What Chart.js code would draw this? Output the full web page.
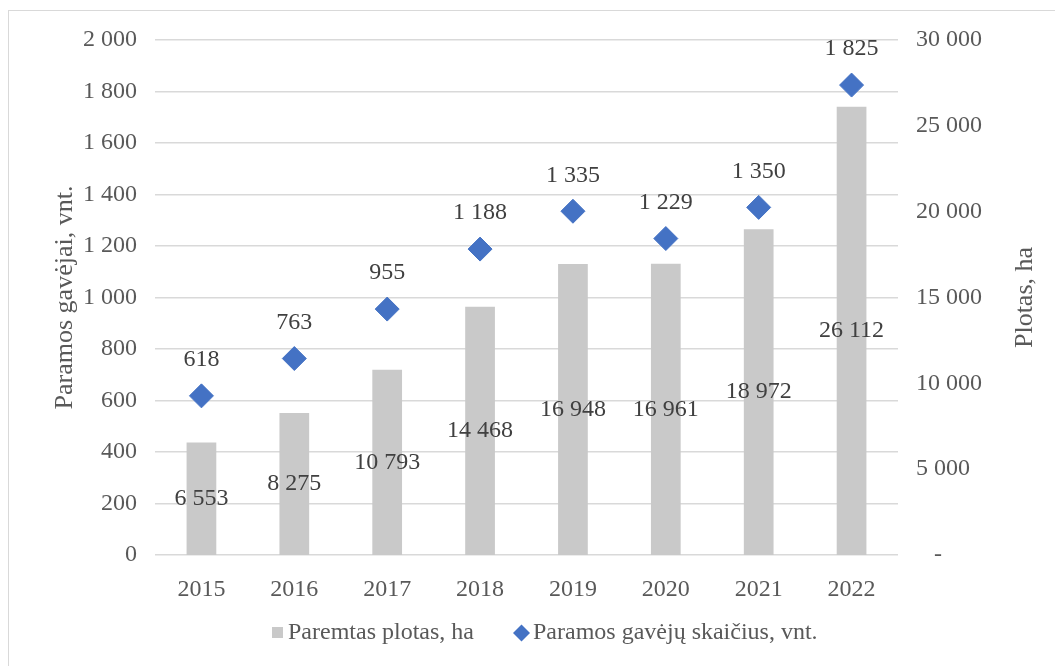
<!DOCTYPE html>
<html>
<head>
<meta charset="utf-8">
<script src="https://cdn.jsdelivr.net/npm/chart.js@4/dist/chart.umd.min.js"></script>
<style>
  html, body { margin: 0; padding: 0; background: #fff; }
  #wrap { position: relative; width: 1055px; height: 666px; overflow: hidden; }
  #frame { position: absolute; left: 8px; top: 10px; width: 1100px; height: 700px; border: 1px solid #d9d9d9; }
  #c { position: absolute; left: 0; top: 0; }
</style>
</head>
<body>
<div id="wrap">
  <div id="frame"></div>
  <canvas id="c" width="1055" height="666"></canvas>
</div>
<script>
const years = ['2015', '2016', '2017', '2018', '2019', '2020', '2021', '2022'];
const area = [6553, 8275, 10793, 14468, 16948, 16961, 18972, 26112];
const recipients = [618, 763, 955, 1188, 1335, 1229, 1350, 1825];
const areaLabel = 'Paremtas plotas, ha';
const recipLabel = 'Paramos gavėjų skaičius, vnt.';
const leftTitle = 'Paramos gavėjai, vnt.';
const rightTitle = 'Plotas, ha';

const FONT = '"Liberation Serif", "Times New Roman", serif';
const fmt = v => String(v).replace(/\B(?=(\d{3})+(?!\d))/g, ' ');

const extras = {
  id: 'extras',
  afterDatasetsDraw(chart) {
    const ctx = chart.ctx;
    ctx.save();
    ctx.font = '24px ' + FONT;
    ctx.fillStyle = '#404040';
    ctx.textAlign = 'center';
    ctx.textBaseline = 'middle';
    chart.getDatasetMeta(0).data.forEach((bar, i) => {
      ctx.fillText(fmt(area[i]), bar.x, (bar.y + bar.base) / 2);
    });
    chart.getDatasetMeta(1).data.forEach((pt, i) => {
      ctx.fillText(fmt(recipients[i]), pt.x, pt.y - 36);
    });

    // axis titles
    ctx.fillStyle = '#595959';
    ctx.font = '26px ' + FONT;
    const midY = (chart.chartArea.top + chart.chartArea.bottom) / 2;
    ctx.save();
    ctx.translate(65, midY);
    ctx.rotate(-Math.PI / 2);
    ctx.fillText(leftTitle, 0, 0);
    ctx.restore();
    ctx.save();
    ctx.translate(1025, midY);
    ctx.rotate(-Math.PI / 2);
    ctx.fillText(rightTitle, 0, 0);
    ctx.restore();

    // legend
    ctx.textAlign = 'left';
    ctx.font = '24px ' + FONT;
    ctx.fillStyle = '#c9c9c9';
    ctx.fillRect(272, 627, 11, 11);
    ctx.fillStyle = '#595959';
    ctx.fillText(areaLabel, 288, 633);
    ctx.fillStyle = '#4472c4';
    ctx.beginPath();
    ctx.moveTo(521.5, 624.5);
    ctx.lineTo(530, 633);
    ctx.lineTo(521.5, 641.5);
    ctx.lineTo(513, 633);
    ctx.closePath();
    ctx.fill();
    ctx.fillStyle = '#595959';
    ctx.fillText(recipLabel, 533, 633);
    ctx.restore();
  }
};

new Chart(document.getElementById('c'), {
  data: {
    labels: years,
    datasets: [
      {
        type: 'bar',
        label: areaLabel,
        data: area,
        yAxisID: 'y1',
        backgroundColor: '#c9c9c9',
        barPercentage: 0.32,
        categoryPercentage: 1,
        order: 2
      },
      {
        type: 'line',
        label: recipLabel,
        data: recipients,
        yAxisID: 'y',
        showLine: false,
        pointStyle: 'rectRot',
        pointRadius: 12,
        pointHoverRadius: 12,
        backgroundColor: '#4472c4',
        borderColor: '#4472c4',
        pointBorderWidth: 1,
        order: 1
      }
    ]
  },
  options: {
    responsive: false,
    animation: false,
    layout: { padding: { top: 40, bottom: 61, left: 0, right: 0 } },
    plugins: { legend: { display: false }, tooltip: { enabled: false } },
    scales: {
      x: {
        grid: { display: false },
        border: { display: false },
        ticks: { color: '#595959', font: { family: FONT, size: 24 }, padding: 12 },
        afterFit: s => { s.height = 50; }
      },
      y: {
        position: 'left',
        min: 0, max: 2000,
        grid: { color: '#d9d9d9', lineWidth: 1.5, drawTicks: false },
        border: { display: false },
        ticks: {
          stepSize: 200, color: '#595959', padding: 18,
          font: { family: FONT, size: 24 },
          callback: v => fmt(v)
        },
        afterFit: s => { s.width = 155; }
      },
      y1: {
        position: 'right',
        min: 0, max: 30000,
        grid: { display: false },
        border: { display: false },
        ticks: {
          stepSize: 5000, color: '#595959', padding: 10,
          font: { family: FONT, size: 24 },
          callback: v => v === 0 ? '   -' : fmt(v)
        },
        afterFit: s => { s.width = 157; }
      }
    }
  },
  plugins: [extras]
});
</script>
</body>
</html>
